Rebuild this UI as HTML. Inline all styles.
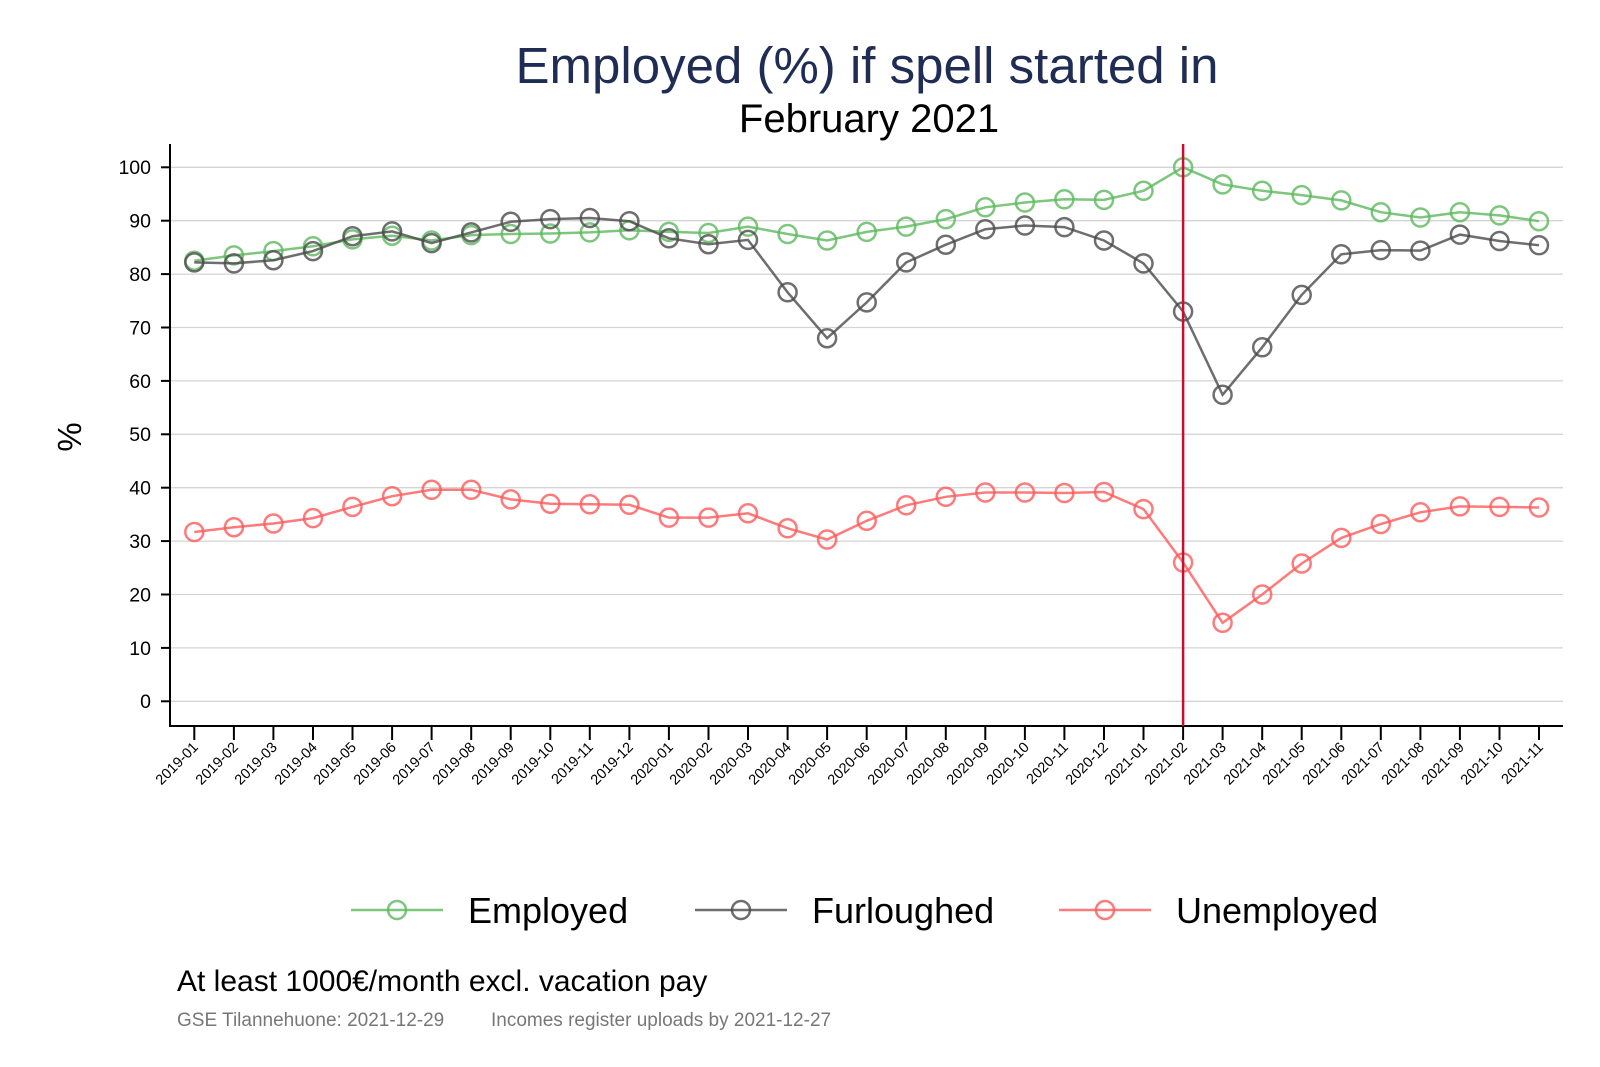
<!DOCTYPE html>
<html><head><meta charset="utf-8"><style>body{margin:0;background:#fff}svg{display:block}</style></head><body>
<svg width="1600" height="1067" viewBox="0 0 1600 1067" font-family="Liberation Sans, Arial, sans-serif">
<defs>
<marker id="mg" markerUnits="userSpaceOnUse" markerWidth="24" markerHeight="24" refX="12" refY="12"><circle cx="12" cy="12" r="9" fill="none" stroke="#5cb85c" stroke-opacity="0.8" stroke-width="2.5"/></marker>
<marker id="mk" markerUnits="userSpaceOnUse" markerWidth="24" markerHeight="24" refX="12" refY="12"><circle cx="12" cy="12" r="9" fill="none" stroke="#4a4a4a" stroke-opacity="0.8" stroke-width="2.5"/></marker>
<marker id="mr" markerUnits="userSpaceOnUse" markerWidth="24" markerHeight="24" refX="12" refY="12"><circle cx="12" cy="12" r="9" fill="none" stroke="#ff5a5a" stroke-opacity="0.8" stroke-width="2.5"/></marker>
</defs>
<rect width="1600" height="1067" fill="#fff"/>
<text x="867" y="83" text-anchor="middle" font-size="51" fill="#1f2d54">Employed (%) if spell started in</text>
<text x="869" y="132" text-anchor="middle" font-size="40" fill="#000">February 2021</text>
<g stroke="#d4d4d4" stroke-width="1.3">
<line x1="170" x2="1563" y1="167.3" y2="167.3"/><line x1="170" x2="1563" y1="220.7" y2="220.7"/><line x1="170" x2="1563" y1="274.1" y2="274.1"/><line x1="170" x2="1563" y1="327.5" y2="327.5"/><line x1="170" x2="1563" y1="380.9" y2="380.9"/><line x1="170" x2="1563" y1="434.3" y2="434.3"/><line x1="170" x2="1563" y1="487.7" y2="487.7"/><line x1="170" x2="1563" y1="541.1" y2="541.1"/><line x1="170" x2="1563" y1="594.5" y2="594.5"/><line x1="170" x2="1563" y1="647.9" y2="647.9"/><line x1="170" x2="1563" y1="701.3" y2="701.3"/>
</g>
<g stroke="#000" stroke-width="2">
<line x1="170" y1="144" x2="170" y2="727"/><line x1="169" y1="726" x2="1563" y2="726"/>
<line x1="161" x2="170" y1="167.3" y2="167.3"/><line x1="161" x2="170" y1="220.7" y2="220.7"/><line x1="161" x2="170" y1="274.1" y2="274.1"/><line x1="161" x2="170" y1="327.5" y2="327.5"/><line x1="161" x2="170" y1="380.9" y2="380.9"/><line x1="161" x2="170" y1="434.3" y2="434.3"/><line x1="161" x2="170" y1="487.7" y2="487.7"/><line x1="161" x2="170" y1="541.1" y2="541.1"/><line x1="161" x2="170" y1="594.5" y2="594.5"/><line x1="161" x2="170" y1="647.9" y2="647.9"/><line x1="161" x2="170" y1="701.3" y2="701.3"/>
</g>
<g font-size="19.5" text-anchor="end" fill="#000">
<text x="151" y="174">100</text><text x="151" y="227.5">90</text><text x="151" y="281">80</text><text x="151" y="334.5">70</text><text x="151" y="388">60</text><text x="151" y="441">50</text><text x="151" y="494.5">40</text><text x="151" y="548">30</text><text x="151" y="601.5">20</text><text x="151" y="655">10</text><text x="151" y="708">0</text>
</g>
<text transform="translate(81,437) rotate(-90)" text-anchor="middle" font-size="33">%</text>
<g stroke="#000" stroke-width="2">
<line x1="194.3" x2="194.3" y1="726" y2="740"/><line x1="233.9" x2="233.9" y1="726" y2="740"/><line x1="273.4" x2="273.4" y1="726" y2="740"/><line x1="313" x2="313" y1="726" y2="740"/><line x1="352.5" x2="352.5" y1="726" y2="740"/><line x1="392.1" x2="392.1" y1="726" y2="740"/><line x1="431.6" x2="431.6" y1="726" y2="740"/><line x1="471.2" x2="471.2" y1="726" y2="740"/><line x1="510.7" x2="510.7" y1="726" y2="740"/><line x1="550.3" x2="550.3" y1="726" y2="740"/><line x1="589.8" x2="589.8" y1="726" y2="740"/><line x1="629.4" x2="629.4" y1="726" y2="740"/><line x1="668.9" x2="668.9" y1="726" y2="740"/><line x1="708.5" x2="708.5" y1="726" y2="740"/><line x1="748" x2="748" y1="726" y2="740"/><line x1="787.6" x2="787.6" y1="726" y2="740"/><line x1="827.1" x2="827.1" y1="726" y2="740"/><line x1="866.7" x2="866.7" y1="726" y2="740"/><line x1="906.2" x2="906.2" y1="726" y2="740"/><line x1="945.8" x2="945.8" y1="726" y2="740"/><line x1="985.3" x2="985.3" y1="726" y2="740"/><line x1="1024.9" x2="1024.9" y1="726" y2="740"/><line x1="1064.4" x2="1064.4" y1="726" y2="740"/><line x1="1104" x2="1104" y1="726" y2="740"/><line x1="1143.5" x2="1143.5" y1="726" y2="740"/><line x1="1183.1" x2="1183.1" y1="726" y2="740"/><line x1="1222.6" x2="1222.6" y1="726" y2="740"/><line x1="1262.2" x2="1262.2" y1="726" y2="740"/><line x1="1301.7" x2="1301.7" y1="726" y2="740"/><line x1="1341.3" x2="1341.3" y1="726" y2="740"/><line x1="1380.8" x2="1380.8" y1="726" y2="740"/><line x1="1420.4" x2="1420.4" y1="726" y2="740"/><line x1="1459.9" x2="1459.9" y1="726" y2="740"/><line x1="1499.5" x2="1499.5" y1="726" y2="740"/><line x1="1539" x2="1539" y1="726" y2="740"/>
</g>
<g font-size="14.5" text-anchor="end" fill="#000">
<text transform="translate(199,748) rotate(-45)">2019-01</text><text transform="translate(239,748) rotate(-45)">2019-02</text><text transform="translate(278,748) rotate(-45)">2019-03</text><text transform="translate(318,748) rotate(-45)">2019-04</text><text transform="translate(357,748) rotate(-45)">2019-05</text><text transform="translate(397,748) rotate(-45)">2019-06</text><text transform="translate(436,748) rotate(-45)">2019-07</text><text transform="translate(476,748) rotate(-45)">2019-08</text><text transform="translate(515,748) rotate(-45)">2019-09</text><text transform="translate(555,748) rotate(-45)">2019-10</text><text transform="translate(594,748) rotate(-45)">2019-11</text><text transform="translate(634,748) rotate(-45)">2019-12</text><text transform="translate(674,748) rotate(-45)">2020-01</text><text transform="translate(713,748) rotate(-45)">2020-02</text><text transform="translate(753,748) rotate(-45)">2020-03</text><text transform="translate(792,748) rotate(-45)">2020-04</text><text transform="translate(832,748) rotate(-45)">2020-05</text><text transform="translate(871,748) rotate(-45)">2020-06</text><text transform="translate(911,748) rotate(-45)">2020-07</text><text transform="translate(950,748) rotate(-45)">2020-08</text><text transform="translate(990,748) rotate(-45)">2020-09</text><text transform="translate(1030,748) rotate(-45)">2020-10</text><text transform="translate(1069,748) rotate(-45)">2020-11</text><text transform="translate(1109,748) rotate(-45)">2020-12</text><text transform="translate(1148,748) rotate(-45)">2021-01</text><text transform="translate(1188,748) rotate(-45)">2021-02</text><text transform="translate(1227,748) rotate(-45)">2021-03</text><text transform="translate(1267,748) rotate(-45)">2021-04</text><text transform="translate(1306,748) rotate(-45)">2021-05</text><text transform="translate(1346,748) rotate(-45)">2021-06</text><text transform="translate(1385,748) rotate(-45)">2021-07</text><text transform="translate(1425,748) rotate(-45)">2021-08</text><text transform="translate(1465,748) rotate(-45)">2021-09</text><text transform="translate(1504,748) rotate(-45)">2021-10</text><text transform="translate(1544,748) rotate(-45)">2021-11</text>
</g>
<polyline fill="none" stroke="#5cb85c" stroke-opacity="0.8" stroke-width="2.5" marker-start="url(#mg)" marker-mid="url(#mg)" marker-end="url(#mg)" points="194.3,260.7 233.9,255.4 273.4,251.1 313,246.3 352.5,239.4 392.1,235.7 431.6,240.5 471.2,235.1 510.7,234 550.3,233.5 589.8,232.4 629.4,230.3 668.9,231.9 708.5,233 748,226.6 787.6,234 827.1,240.5 866.7,231.9 906.2,226.6 945.8,219.1 985.3,207.3 1024.9,202.5 1064.4,199.3 1104,199.9 1143.5,190.8 1183.1,167.3 1222.6,184.4 1262.2,190.8 1301.7,195.1 1341.3,200.4 1380.8,212.2 1420.4,217.5 1459.9,212.2 1499.5,215.4 1539,221.2"/>
<polyline fill="none" stroke="#4a4a4a" stroke-opacity="0.8" stroke-width="2.5" marker-start="url(#mk)" marker-mid="url(#mk)" marker-end="url(#mk)" points="194.3,262.4 233.9,263.4 273.4,260.2 313,251.1 352.5,236.2 392.1,231.4 431.6,243.1 471.2,232.4 510.7,221.8 550.3,219.1 589.8,218 629.4,221.2 668.9,238.3 708.5,244.2 748,239.9 787.6,292.3 827.1,338.2 866.7,302.4 906.2,262.4 945.8,244.7 985.3,229.2 1024.9,225.5 1064.4,227.1 1104,240.5 1143.5,263.4 1183.1,311.5 1222.6,394.8 1262.2,347.3 1301.7,294.9 1341.3,254.3 1380.8,250.1 1420.4,250.6 1459.9,234.6 1499.5,241 1539,245.3"/>
<polyline fill="none" stroke="#ff5a5a" stroke-opacity="0.8" stroke-width="2.5" marker-start="url(#mr)" marker-mid="url(#mr)" marker-end="url(#mr)" points="194.3,532 233.9,527.2 273.4,523.5 313,518.1 352.5,506.9 392.1,496.2 431.6,489.8 471.2,489.8 510.7,499.4 550.3,503.7 589.8,504.3 629.4,504.8 668.9,517.6 708.5,517.6 748,513.3 787.6,528.3 827.1,539.5 866.7,520.8 906.2,505.3 945.8,496.8 985.3,492.5 1024.9,492.5 1064.4,493 1104,492 1143.5,509.1 1183.1,562.5 1222.6,622.8 1262.2,594.5 1301.7,563.5 1341.3,537.9 1380.8,524 1420.4,512.3 1459.9,506.4 1499.5,506.9 1539,507.5"/>
<line x1="1183.1" y1="144" x2="1183.1" y2="726" stroke="#c8102e" stroke-width="2.5"/>
<g stroke-width="2.5" fill="none" stroke-opacity="0.8">
<line x1="351" x2="443" y1="910" y2="910" stroke="#5cb85c"/><circle cx="397" cy="910" r="9" stroke="#5cb85c"/>
<line x1="695" x2="787" y1="910" y2="910" stroke="#4a4a4a"/><circle cx="741" cy="910" r="9" stroke="#4a4a4a"/>
<line x1="1059" x2="1151" y1="910" y2="910" stroke="#ff5a5a"/><circle cx="1105" cy="910" r="9" stroke="#ff5a5a"/>
</g>
<g font-size="36" fill="#000">
<text x="468" y="923">Employed</text><text x="812" y="923">Furloughed</text><text x="1176" y="923">Unemployed</text>
</g>
<text x="177" y="991" font-size="30" fill="#000">At least 1000€/month excl. vacation pay</text>
<text x="177" y="1026" font-size="19" fill="#777">GSE Tilannehuone: 2021-12-29</text>
<text x="491" y="1026" font-size="19" fill="#777">Incomes register uploads by 2021-12-27</text>
</svg>
</body></html>
